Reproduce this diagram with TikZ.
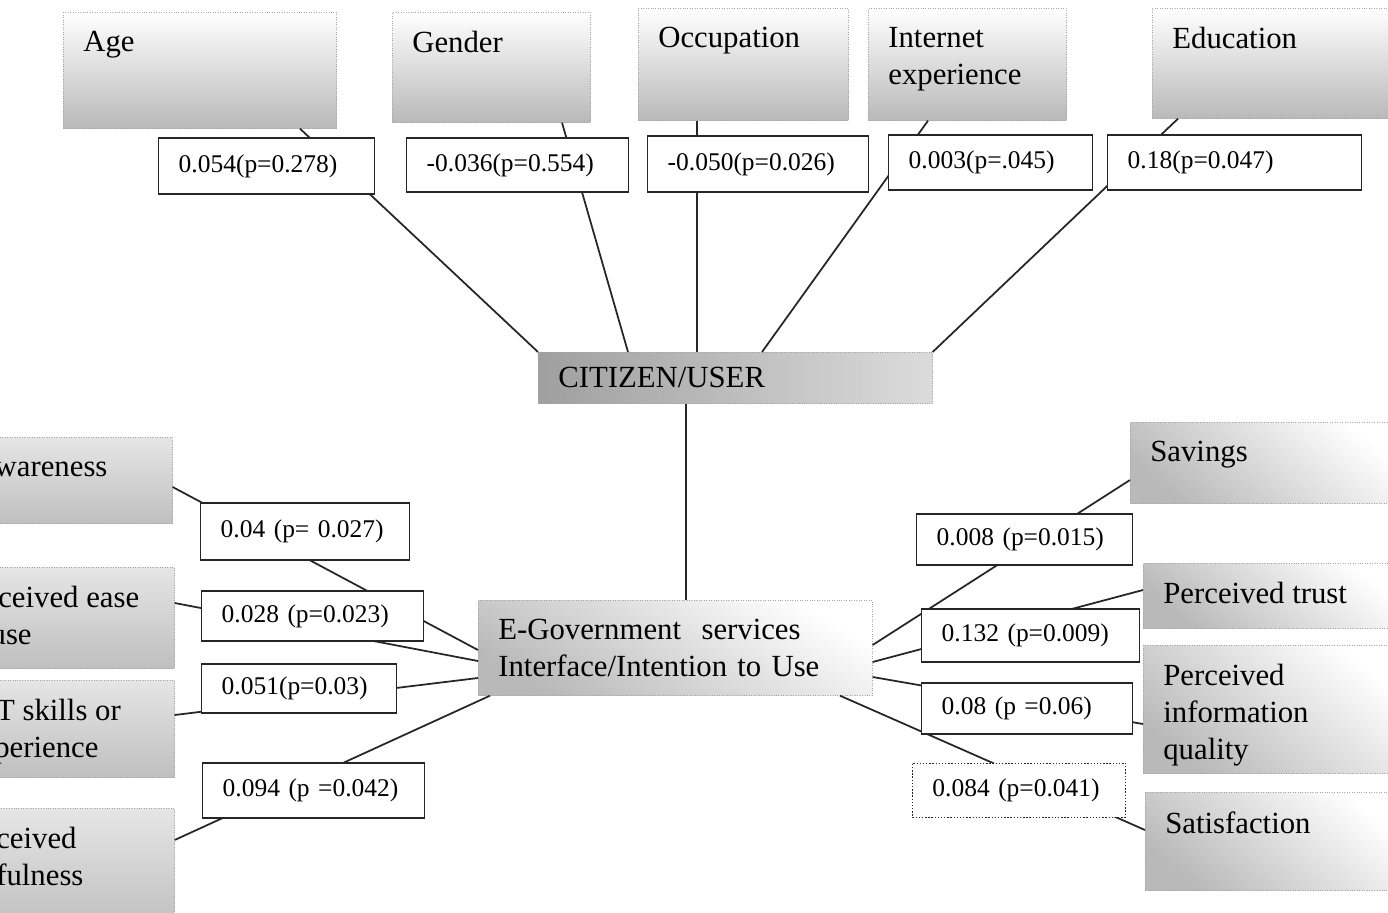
\documentclass[tikz,border=0pt]{standalone}
\usepackage{fontspec}
\setmainfont{Liberation Serif}
\newcommand{\boxfont}{\fontsize{17.5}{21}\selectfont}
\newcommand{\coeffont}{\fontsize{14.5}{17}\selectfont}
\tikzset{factor/.style={rectangle, anchor=north west, draw=gray!70, densely dotted,
    top color=white, bottom color=gray!55},
  factorname/.style={anchor=north west, inner sep=0pt, xshift=0.4cm, yshift=-0.38cm,
    align=left, font=\boxfont},
  hub/.style={rectangle, anchor=north west, draw=gray!70, densely dotted,
    inner xsep=0.4cm, align=left, font=\boxfont},
  coef/.style={rectangle, anchor=west, draw=black!85, line width=0.8pt, fill=white,
    inner xsep=0.4cm, inner ysep=0pt, align=left, font=\coeffont},
  link/.style={line width=1pt, black!85}}

\begin{document}
\begin{tikzpicture}[x={(0.02cm,0)}, y={(0,-0.02cm)}]
    \useasboundingbox (0,0) rectangle (1388,912);
    \clip (0,0) rectangle (1388,912);

    % demographic factors
    \node[factor, minimum width=5.46cm, minimum height=2.32cm,
      label={[factorname]north west:Age}] (age) at (63,12) {};
    \node[factor, minimum width=3.96cm, minimum height=2.2cm,
      label={[factorname]north west:Gender}] (gender) at (392,12) {};
    \node[factor, minimum width=4.2cm, minimum height=2.24cm,
      label={[factorname]north west:Occupation}] (occupation) at (638,8) {};
    \node[factor, minimum width=3.96cm, minimum height=2.24cm,
      label={[factorname]north west:Internet\\experience}] (internet) at (868,8) {};
    \node[factor, minimum width=4.96cm, minimum height=2.2cm,
      label={[factorname]north west:Education}] (education) at (1152,8) {};

    % the two hubs
    \node[hub, left color=gray!75, right color=gray!28, text width=7.08cm,
      minimum height=1.02cm] (citizen) at (538,352) {CITIZEN/USER};
    \node[hub, top color=white, bottom color=gray!55, shading angle=-30,
      text width=7.08cm, minimum height=1.9cm] (egov) at (478,600)
      {E-Government~ services\\Interface/Intention to Use};

    % left factors
    \node[factor, top color=gray!20, bottom color=gray!50, minimum width=4.34cm,
      minimum height=1.72cm, label={[factorname]north west:Awareness}] (awareness) at (-45,437) {};
    \node[factor, top color=gray!20, bottom color=gray!50, minimum width=4.74cm,
      minimum height=2.02cm, label={[factorname]north west:Perceived ease\\of use}] (ease) at (-63,567) {};
    \node[factor, top color=gray!20, bottom color=gray!50, minimum width=4.58cm,
      minimum height=1.94cm, label={[factorname]north west:ICT skills or\\experience}] (ict) at (-55,680) {};
    \node[factor, top color=gray!20, bottom color=gray!50, minimum width=4.78cm,
      minimum height=2.4cm, label={[factorname]north west:Perceived\\usefulness}] (useful) at (-65,808) {};

    % right factors
    \node[factor, shading angle=-40, minimum width=5.4cm, minimum height=1.62cm,
      label={[factorname]north west:Savings}] (savings) at (1130,422) {};
    \node[factor, shading angle=-40, minimum width=5.14cm, minimum height=1.3cm,
      label={[factorname]north west:Perceived trust}] (trust) at (1143,563) {};
    \node[factor, shading angle=-40, minimum width=5.14cm, minimum height=2.56cm,
      label={[factorname]north west:Perceived\\information\\quality}] (quality) at (1143,645) {};
    \node[factor, shading angle=-40, minimum width=5.1cm, minimum height=1.96cm,
      label={[factorname]north west:Satisfaction}] (satisfaction) at (1145,792) {};

    % links
    \draw[link] (age.south -| 300,0) -- (citizen.north west);
    \draw[link] (gender.south -| 562,0) -- (citizen.north -| 628,0);
    \draw[link] (occupation.south -| 697,0) -- (citizen.north -| 697,0);
    \draw[link] (internet.south -| 928,0) -- (citizen.north -| 762,0);
    \draw[link] (education.south -| 1178,0) -- (citizen.north east);
    \draw[link] (citizen.south -| 686,0) -- (egov.north -| 686,0);

    \draw[link] (awareness.east |- 0,487) -- (egov.west |- 0,650);
    \draw[link] (ease.east |- 0,603) -- (egov.west |- 0,661);
    \draw[link] (ict.east |- 0,715) -- (egov.west |- 0,678);
    \draw[link] (useful.east |- 0,840) -- (egov.south -| 490,0);

    \draw[link] (savings.west |- 0,480) -- (egov.east |- 0,645);
    \draw[link] (trust.west |- 0,590) -- (egov.east |- 0,662);
    \draw[link] (quality.west |- 0,724) -- (egov.east |- 0,677);
    \draw[link] (satisfaction.west |- 0,830) -- (egov.south -| 840,0);

    % coefficients
    \node[coef, text width=3.52cm, minimum height=1.12cm] (cage) at (158,166) {0.054(p=0.278)};
    \node[coef, text width=3.64cm, minimum height=1.08cm] (cgender) at (406,165) {-0.036(p=0.554)};
    \node[coef, text width=3.62cm, minimum height=1.12cm] (coccupation) at (647,164) {-0.050(p=0.026)};
    \node[coef, text width=3.28cm, minimum height=1.1cm] (cinternet) at (888,162.5) {0.003(p=.045)};
    \node[coef, text width=4.28cm, minimum height=1.1cm] (ceducation) at (1107,162.5) {0.18(p=0.047)};

    \node[coef, text width=3.38cm, minimum height=1.14cm] (cawareness) at (200,531.5) {0.04 (p= 0.027)};
    \node[coef, text width=3.64cm, minimum height=1.0cm] (cease) at (201,616) {0.028 (p=0.023)};
    \node[coef, text width=3.1cm, minimum height=0.98cm] (cict) at (201,688.5) {0.051(p=0.03)};
    \node[coef, text width=3.64cm, minimum height=1.1cm] (cuseful) at (202,790.5) {0.094 (p =0.042)};

    \node[coef, text width=3.52cm, minimum height=1.02cm] (csavings) at (916,539.5) {0.008 (p=0.015)};
    \node[coef, text width=3.56cm, minimum height=1.06cm] (ctrust) at (921,635.5) {0.132 (p=0.009)};
    \node[coef, text width=3.42cm, minimum height=1.02cm] (cquality) at (921,708.5) {0.08 (p =0.06)};
    \node[coef, densely dotted, line width=0.5pt, text width=3.46cm, minimum height=1.08cm]
      (csatisfaction) at (912,790) {0.084 (p=0.041)};
\end{tikzpicture}
\end{document}
